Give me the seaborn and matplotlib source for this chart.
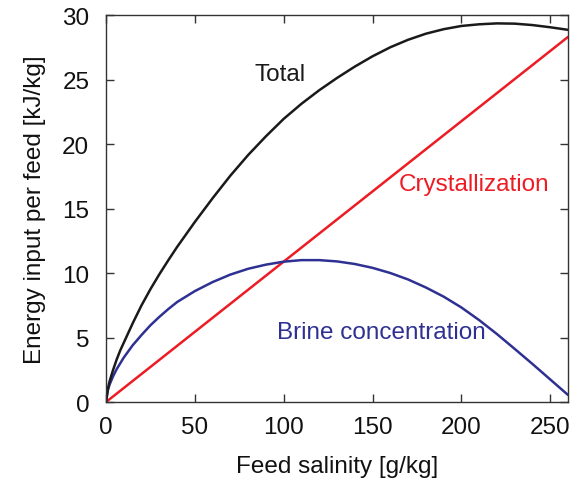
import numpy as np
import pandas as pd
import matplotlib
matplotlib.use("Agg")
import matplotlib.pyplot as plt
import seaborn as sns

# Data
salinity = [0, 1, 2, 4, 6, 8, 10, 15, 20, 25, 30, 35, 40, 50, 60, 70, 80, 90, 100,
            110, 120, 130, 140, 150, 160, 170, 180, 190, 200, 210, 220, 230, 240, 250, 260]
brine = [0, 0.9, 1.35, 2.0, 2.55, 3.0, 3.45, 4.4, 5.2, 5.95, 6.6, 7.2, 7.75, 8.6, 9.3, 9.88, 10.33, 10.65, 10.88,
         11.0, 11.0, 10.9, 10.7, 10.4, 10.0, 9.5, 8.88, 8.17, 7.33, 6.35, 5.27, 4.12, 2.95, 1.75, 0.55]
total = [0, 1.0, 1.6, 2.5, 3.3, 4.0, 4.6, 6.1, 7.5, 8.75, 9.9, 10.98, 12.02, 13.96, 15.8, 17.55, 19.15, 20.6, 21.95,
         23.12, 24.17, 25.12, 26.0, 26.8, 27.5, 28.08, 28.55, 28.9, 29.15, 29.28, 29.35, 29.33, 29.22, 29.05, 28.85]
# Crystallization is a straight line from the origin
cryst_salinity = [0, 260]
crystallization = [0, 28.3]

x_ticks = [0, 50, 100, 150, 200, 250]
y_ticks = [0, 5, 10, 15, 20, 25, 30]

df = pd.DataFrame({"salinity": salinity, "Total": total, "Brine concentration": brine})
df_c = pd.DataFrame({"salinity": cryst_salinity, "Crystallization": crystallization})

sns.set_theme(style="ticks")
plt.rcParams['font.family'] = ['Liberation Sans', 'DejaVu Sans']

fig = plt.figure(figsize=(5.7, 4.85), dpi=100)
ax = fig.add_axes([0.186, 0.169, 0.8105, 0.798])

colors = {"Total": "#1a1a1a", "Crystallization": "#ed1c24", "Brine concentration": "#2e3192"}
sns.lineplot(data=df_c, x="salinity", y="Crystallization", ax=ax,
             color=colors["Crystallization"], linewidth=1.8)
for name in ["Brine concentration", "Total"]:
    sns.lineplot(data=df, x="salinity", y=name, ax=ax, color=colors[name], linewidth=1.8)

ax.set_xlim(0, 260)
ax.set_ylim(0, 30)
ax.set_xticks(x_ticks)
ax.set_yticks(y_ticks)
ax.tick_params(direction="in", length=6, width=1, top=True, right=True,
               labelsize=17.5, colors="#333333", labelcolor="#111111")
ax.tick_params(axis="y", pad=12)
ax.tick_params(axis="x", pad=10)
for sp in ax.spines.values():
    sp.set_visible(True)
    sp.set_color("#333333")
    sp.set_linewidth(1.0)

ax.set_xlabel("Feed salinity [g/kg]", fontsize=17.5, color="#111111", labelpad=12)
ax.set_ylabel("Energy input per feed [kJ/kg]", fontsize=17.5, color="#111111", labelpad=12)

ax.text(98, 25.4, "Total", color=colors["Total"], fontsize=17.5, ha="center", va="center")
ax.text(207, 16.9, "Crystallization", color=colors["Crystallization"], fontsize=17.5, ha="center", va="center")
ax.text(155, 5.4, "Brine concentration", color=colors["Brine concentration"], fontsize=17.5, ha="center", va="center")

fig.savefig("out.png", dpi=100)
